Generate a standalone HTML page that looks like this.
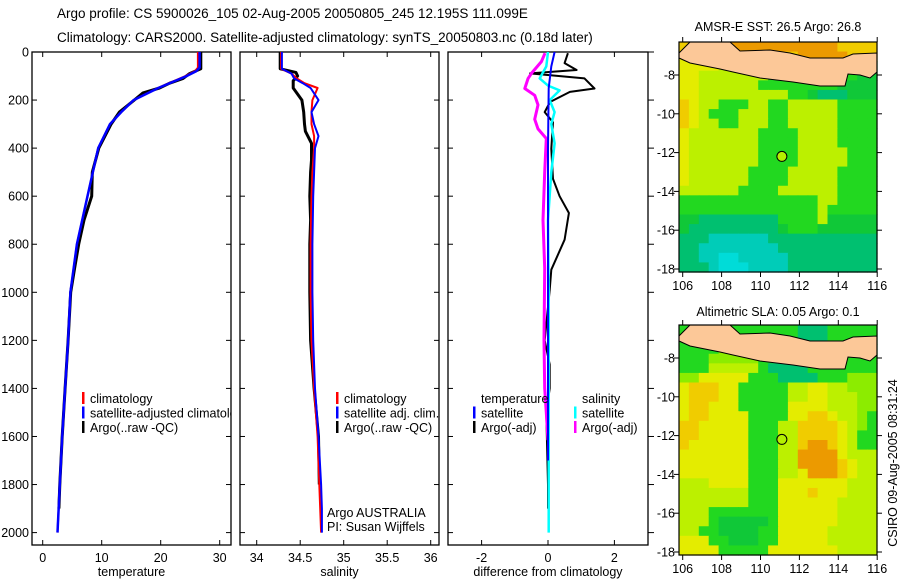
<!DOCTYPE html>
<html><head><meta charset="utf-8">
<style>
html,body{margin:0;padding:0;background:#fff;}
svg{display:block;font-family:"Liberation Sans",sans-serif;}
</style></head>
<body>
<svg id="fig" width="900" height="580" viewBox="0 0 900 580" xmlns="http://www.w3.org/2000/svg">
<defs><clipPath id="p1clip"><rect x="32" y="52" width="199" height="493"/></clipPath></defs>
<text x="57" y="18" font-size="13.5">Argo profile: CS 5900026_105 02-Aug-2005 20050805_245 12.195S 111.099E</text>
<text x="57" y="42" font-size="13.5">Climatology: CARS2000. Satellite-adjusted climatology: synTS_20050803.nc (0.18d later)</text>
<g id="plots"></g>
<text x="778" y="31" font-size="12.5" text-anchor="middle">AMSR-E SST: 26.5 Argo: 26.8</text>
<text x="778" y="316" font-size="12.5" text-anchor="middle">Altimetric SLA: 0.05 Argo: 0.1</text>
<text transform="translate(897,463) rotate(-90)" font-size="12.5" text-anchor="middle">CSIRO 09-Aug-2005 08:31:24</text>
</svg>
<script>
// ---- data ----
const depthTicks = [0,200,400,600,800,1000,1200,1400,1600,1800,2000];
const tempTicks = [0,10,20,30];
const salTicks = [34,34.5,35,35.5,36];
const diffTicks = [-2,0,2];

const tClimDepth = [0,65,80,100,150,200,250,300,400,600,800,1000,1200,1400,1600,1800,2000];
const tClim      = [26.3,26.3,25.8,24.2,19.5,15.4,13.3,11.4,9.4,7.6,5.8,4.7,4.3,3.8,3.3,2.9,2.5];
const tSat       = [26.6,26.6,26.0,24.4,19.6,15.4,13.3,11.4,9.4,7.6,5.8,4.7,4.3,3.8,3.3,2.9,2.5];
const tArgoDepth = [0,70,90,110,130,150,170,200,250,300,400,500,600,700,800,900,1000,1200,1400,1600,1800,1900];
const tArgo      = [26.8,26.8,24.9,23.8,21.5,19.8,17.0,15.5,13.0,11.6,9.5,8.4,8.3,7.0,6.1,5.4,4.75,4.3,3.8,3.3,2.9,2.75];

const sDepth   = [0,70,90,110,130,150,200,250,300,350,400,500,600,800,1000,1200,1400,1600,1800,1900,2000];
const sClim    = [34.28,34.28,34.40,34.46,34.55,34.70,34.64,34.63,34.63,34.66,34.66,34.64,34.63,34.62,34.62,34.63,34.66,34.70,34.72,34.73,34.74];
const sSat     = [34.29,34.29,34.40,34.43,34.53,34.62,34.71,34.63,34.66,34.71,34.67,34.66,34.65,34.64,34.64,34.65,34.67,34.71,34.74,34.75,34.75];
const sArgoDepth = [0,70,85,100,120,150,200,250,300,330,380,450,500,600,700,800,1000,1200,1400,1600,1800];
const sArgo      = [34.27,34.27,34.45,34.47,34.42,34.42,34.52,34.54,34.55,34.56,34.63,34.63,34.62,34.61,34.62,34.61,34.61,34.62,34.66,34.71,34.72];

const dTSatDepth = [0,60,150,400,1000,1700];
const dTSat      = [0.2,0.1,0.02,0.0,0.0,0.0];
const dTArgoDepth = [5,46,75,89,110,152,166,208,250,292,403,528,600,670,781,906,990,1200,1300,1400,1500,1800,1900];
const dTArgo      = [0.6,0.5,0.86,-0.54,1.1,1.4,0.66,0.06,-0.1,0.15,0.1,0.15,0.35,0.63,0.5,0.1,0.05,-0.1,0.05,0.05,-0.05,0.0,0.0];
const dSSatDepth = [0,60,110,140,160,200,250,300,380,500,700,1000,1500,2000];
const dSSat      = [0.0,-0.05,-0.25,0.0,0.35,0.05,0.2,0.1,0.2,0.1,0.0,0.02,0.02,0.02];
const dSArgoDepth = [5,40,89,110,152,180,220,280,320,360,500,700,900,1200,1400,1500,1615];
const dSArgo      = [-0.09,-0.2,-0.5,-0.6,-0.7,-0.4,-0.3,-0.4,-0.3,-0.05,-0.1,-0.15,-0.1,-0.12,-0.1,-0.05,0.0];

const lonTicks = [106,108,110,112,114,116];
const latTicks = [-8,-10,-12,-14,-16,-18];
const argoLon = 111.099, argoLat = -12.195;

const sstRows = [
"oOOOOOOOOOOOOOOOoooo","YYoooOOOOOooOOOOOooo","YYYYyyyyyGGGGGGGGGGG","YYyyyyyyyGGGGGGGGGgg",
"YYyyyyyyGGGGGGGGgggg","YYyyyyyyyyyGGgTTTggg","oYyyGGGyyGGyyyyyGGGG","oYyGGGyyyGGyyyyyGGGG",
"oYyyGGyyyGGyyyyyGGGG","YyyyyyyyGGGGyyyyGGGG","YyyyyyyyGGGGyyyyGGGG","YyyyyyyyGGGGyyyyyGGG",
"YyyyyyyyGGGGyyyyyGGG","YyyyyyyGGGGyyyyyGGGG","YyyyyyyGGGGyyyyyGGGG","yyyyyyGGGGyyyyyyGGGG",
"GGGGGGGGGGGGGGyyGGGG","GGGGGGGGGGGGGGyGGGGG","ggTTTTTTTTGGGGyggggg","gTTTTTTTTTgGGGgggggg",
"TTTCCCCCCTTTTTTTTTTT","TTCCCCCCCCTTTTTTTTTT","TTCCccCCCCCTTTTTTTTT","TTTCcccCCCCTTTTTTTTT"];
const slaRows = [
"GGGGGGGGGGGGTTTGGGGG","GGGGGGGGGGGGTTTGGGGG","GGGGllllGGGGGGGGGGGG","GGGlllllGGGGGGGGGGGG",
"GGGyyyyyGTTTTGGGGGGG","llYYYYYGGGTTTTGGGlll","YoooYYGGGGGyyYYyylll","YoooYYGGGGGyyYYyyyll",
"YooYYYGGGGGYYYYyyyll","YooYYYYGGGGYYooYyylG","ooYYYYYGGGyyooooYylG","ooYYYYYGGGyyooooYyGG",
"oYYYYYYGGGyyoOOoYyGG","YYYYYYYGGGyyOOOOYyyy","YYYYYYYGGGyyOOOOoYyy","YYYYYYYGGGyyYOOOoYyy",
"yyyYYYYGGGYYYYYYYyyy","yyyyyyyGGGYYYoYYYyyy","yyyyyyyGGGYYYYYYyyyy","yyyGGGGGGGYYYYYYyyyy",
"yyyGgggggGYYYYYYyyyy","yyGGggggGGYYYYYyyyyy","YYYGGgggGGYYYYYyyyyy","YYYYGGGGGYYYYYYYyyyy"];

// ---- helpers ----
const NS = "http://www.w3.org/2000/svg";
const root = document.getElementById('plots');
function mk(tag, attrs, parent){ const e=document.createElementNS(NS,tag); for(const k in attrs) e.setAttribute(k,attrs[k]); (parent||root).appendChild(e); return e; }
function txt(s, attrs, parent){ const e=mk('text',attrs,parent); e.textContent=s; return e; }

const yD = d => 52 + d*0.2403;
const xT = v => 42.7 + v*5.9;
const xS = v => 256.7 + (v-34)*87;
const xDf = v => 548 + v*33.2;

function panel(name, x0, x1, ticks, xf, label, outRight, showDepth){
  const g = mk('g',{});  
  const r = mk('rect',{x:x0,y:52,width:x1-x0,height:493,fill:'none',stroke:'#000','stroke-width':1.3},g);
   
  ticks.forEach(t=>{ const x=xf(t);
    mk('line',{x1:x,y1:52,x2:x,y2:57,stroke:'#000'},g);
    mk('line',{x1:x,y1:545,x2:x,y2:540,stroke:'#000'},g);
    const tl = txt(String(t),{x:x,y:562,'font-size':12.5,'text-anchor':'middle'},g);
     
  });
  depthTicks.forEach(d=>{ const y=yD(d);
    mk('line',{x1:x0,y1:y,x2:x0+5,y2:y,stroke:'#000'},g);
    if(outRight) mk('line',{x1:x1,y1:y,x2:x1+6,y2:y,stroke:'#000'},g);
    else mk('line',{x1:x1,y1:y,x2:x1-5,y2:y,stroke:'#000'},g);
    if(showDepth){ const tl=txt(String(d),{x:x0-3,y:y+4.5,'font-size':12.5,'text-anchor':'end'},g);
        }
  });
  const xl = txt(label,{x:(x0+x1)/2,y:576,'font-size':12.5,'text-anchor':'middle'},g);
   
  return g;
}
function line(depths, vals, xf, color, w, name){
  const pts = depths.map((d,i)=> xf(vals[i]).toFixed(1)+','+yD(d).toFixed(1)).join(' ');
  const p = mk('polyline',{points:pts,fill:'none',stroke:color,'stroke-width':w,'stroke-linejoin':'round'});
   
}
function legend(items, bx, y0, clip){
  const g = mk('g', clip ? {'clip-path':'url(#'+clip+')'} : {});
   
  items.forEach((it,i)=>{ const y=y0+i*14.5;
    if(it.c){ const b=mk('rect',{x:bx,y:y-6,width:2.5,height:12,fill:it.c},g);   }
    const t=txt(it.t,{x:bx+8,y:y+5,'font-size':12.5},g);  
  });
}

// temperature panel
panel('temperature-panel',32,231,tempTicks,xT,'temperature',false,true);
line(tArgoDepth,tArgo,xT,'#000',3,'temp-argo-line');
line(tClimDepth,tClim,xT,'#f00',2,'temp-climatology-line');
line(tClimDepth,tSat,xT,'#00f',2.5,'temp-satellite-line');
legend([{c:'#f00',t:'climatology'},{c:'#00f',t:'satellite-adjusted climatology'},{c:'#000',t:'Argo(..raw -QC)'}],82,398,'p1clip');

// salinity panel
panel('salinity-panel',240,439,salTicks,xS,'salinity',false,false);
line(sArgoDepth,sArgo,xS,'#000',3,'sal-argo-line');
line(sDepth,sClim,xS,'#f00',2,'sal-climatology-line');
line(sDepth,sSat,xS,'#00f',2,'sal-satellite-line');
legend([{c:'#f00',t:'climatology'},{c:'#00f',t:'satellite adj. clim.'},{c:'#000',t:'Argo(..raw -QC)'}],336,398);
const inst = txt('Argo AUSTRALIA',{x:327,y:517,'font-size':12.5});
 
const pi = txt('PI: Susan Wijffels',{x:327,y:531,'font-size':12.5});
 

// difference panel
panel('difference-panel',448,648,diffTicks,xDf,'difference from climatology',true,false);
line(dTArgoDepth,dTArgo,xDf,'#000',2,'diff-temp-argo-line');
line(dSArgoDepth,dSArgo,xDf,'#f0f',3,'diff-sal-argo-line');
line(dSSatDepth,dSSat,xDf,'#0ff',2.5,'diff-sal-satellite-line');
line(dTSatDepth,dTSat,xDf,'#00f',2,'diff-temp-satellite-line');
legend([{c:null,t:'temperature'},{c:'#00f',t:'satellite'},{c:'#000',t:'Argo(-adj)'}],473,398);
legend([{c:null,t:'salinity'},{c:'#0ff',t:'satellite'},{c:'#f0f',t:'Argo(-adj)'}],574,398);

// maps
const pal = {O:'#ec9a00',o:'#f0cc00',Y:'#e4ec00',y:'#bcf000',l:'#8cec00',G:'#22d820',g:'#10c838',T:'#00c070',t:'#00c890',C:'#00ccb8',c:'#00dcd8'};
const mxL=679, mxR=877;
const xLon = lon => 682.7 + (lon-106)*19.45;
function map(name, rows, top){
  const g = mk('g',{});  
  const yLat = lat => top+33 + (-8-lat)*19.4;
  const bottom = top+230;
  const cw=(mxR-mxL)/20, ch=230/24;
  rows.forEach((row,r)=>{ for(let c=0;c<row.length;c++){
    const cell=mk('rect',{x:(mxL+c*cw).toFixed(2),y:(top+r*ch).toFixed(2),width:(cw+0.6).toFixed(2),height:(ch+0.6).toFixed(2),fill:pal[row[c]]},g);
     
  }});
  const s=top-42;
  const land=[[679,53],[686,46],[690,42],[730,42],[740,51],[770,50],[790,53],[810,58],[843,58],[853,54],[877,53],[877,72],[870,78],[860,75],[848,74],[845,86],[820,86],[793,82],[760,78],[733,72],[720,69],[690,63],[679,58]];
  const lp=mk('polygon',{points:land.map(p=>p[0]+','+(p[1]+s)).join(' '),fill:'#fcc898',stroke:'#000','stroke-width':1},g);
   
  const fr=mk('rect',{x:mxL,y:top,width:mxR-mxL,height:230,fill:'none',stroke:'#000','stroke-width':1.2},g);
   
  lonTicks.forEach(l=>{ const x=xLon(l);
    mk('line',{x1:x,y1:top,x2:x,y2:top-5,stroke:'#000'},g);
    mk('line',{x1:x,y1:bottom,x2:x,y2:bottom+5,stroke:'#000'},g);
    const t=txt(String(l),{x:x,y:bottom+18,'font-size':12.5,'text-anchor':'middle'},g);
     
  });
  latTicks.forEach(l=>{ const y=yLat(l);
    mk('line',{x1:mxL,y1:y,x2:mxL-5,y2:y,stroke:'#000'},g);
    mk('line',{x1:mxR,y1:y,x2:mxR+5,y2:y,stroke:'#000'},g);
    const t=txt(String(l),{x:mxL-4,y:y+4.5,'font-size':12.5,'text-anchor':'end'},g);
     
  });
  const m=mk('circle',{cx:xLon(argoLon),cy:yLat(argoLat),r:5,fill:'#b4f000',stroke:'#000','stroke-width':1},g);
   
}
map('sst-map',sstRows,42);
map('sla-map',slaRows,325);
</script>
</body></html>
